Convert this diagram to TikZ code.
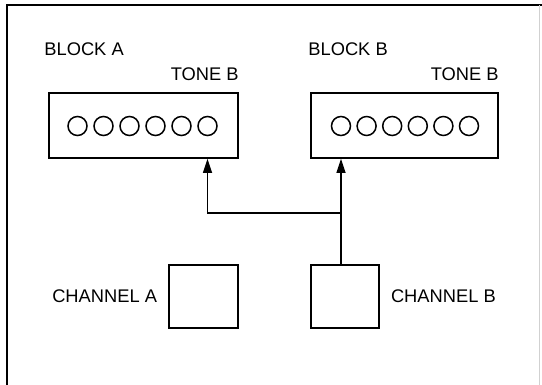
\documentclass[tikz,border=0pt]{standalone}
\usepackage{fontspec}
\setmainfont{Liberation Sans}
\usetikzlibrary{arrows.meta, positioning}

\begin{document}
\begin{tikzpicture}[
    x=1pt, y=-1pt,
    node distance=12pt,
    block/.style={draw, line width=1.6pt, minimum width=189pt, minimum height=65pt,
                  inner sep=0pt},
    chan/.style={draw, line width=1.6pt, minimum width=68pt, minimum height=63pt,
                 inner sep=0pt},
    hole/.style={draw, circle, line width=1.5pt, minimum size=19pt, inner sep=0pt},
    lbl/.style={inner sep=0pt, font=\fontsize{18.3}{20}\selectfont},
    arr/.style={-{Triangle[length=14pt, width=9pt]}, line width=1.3pt}
]
\useasboundingbox (0,0) rectangle (542,385);
% Frame
\draw[line width=2.4pt] (7,385) -- (7,5) -- (542,5);
\draw[line width=0.6pt, black!18] (539,5) -- (539,385);
% Blocks
\node[block] (blockA) at (143.5,125.5) {};
\node[block, minimum width=187pt] (blockB) at (404.5,125.5) {};
\foreach \i in {1,...,6} {
    \node[hole] (cA\i) at (77.5+26*\i-26,126) {};
    \node[hole] (cB\i) at (341+25.6*\i-25.6,126) {};
}
% Block labels
\node[lbl, above right=36.5pt and -4pt of blockA.north west] (nameA) {BLOCK A};
\node[lbl, above left=11.5pt and 0pt of blockA.north east] (toneA) {TONE B};
\node[lbl, above right=36.5pt and -2pt of blockB.north west] (nameB) {BLOCK B};
\node[lbl, above left=11.5pt and 0pt of blockB.north east] (toneB) {TONE B};
% Channels
\node[chan, minimum width=69pt] (chA) at (203.5,296.5) {};
\node[chan] (chB) at (345,296.5) {};
\node[lbl, left=11pt of chA] (labA) {CHANNEL A};
\node[lbl, right=11pt of chB] (labB) {CHANNEL B};
% Connectors
\coordinate (junc) at (cB1 |- 0,213);
\draw[arr] (cB1 |- chB.north) -- (cB1 |- blockB.south);
\draw[arr] (junc) -| (cA6 |- blockA.south);
\end{tikzpicture}
\end{document}
